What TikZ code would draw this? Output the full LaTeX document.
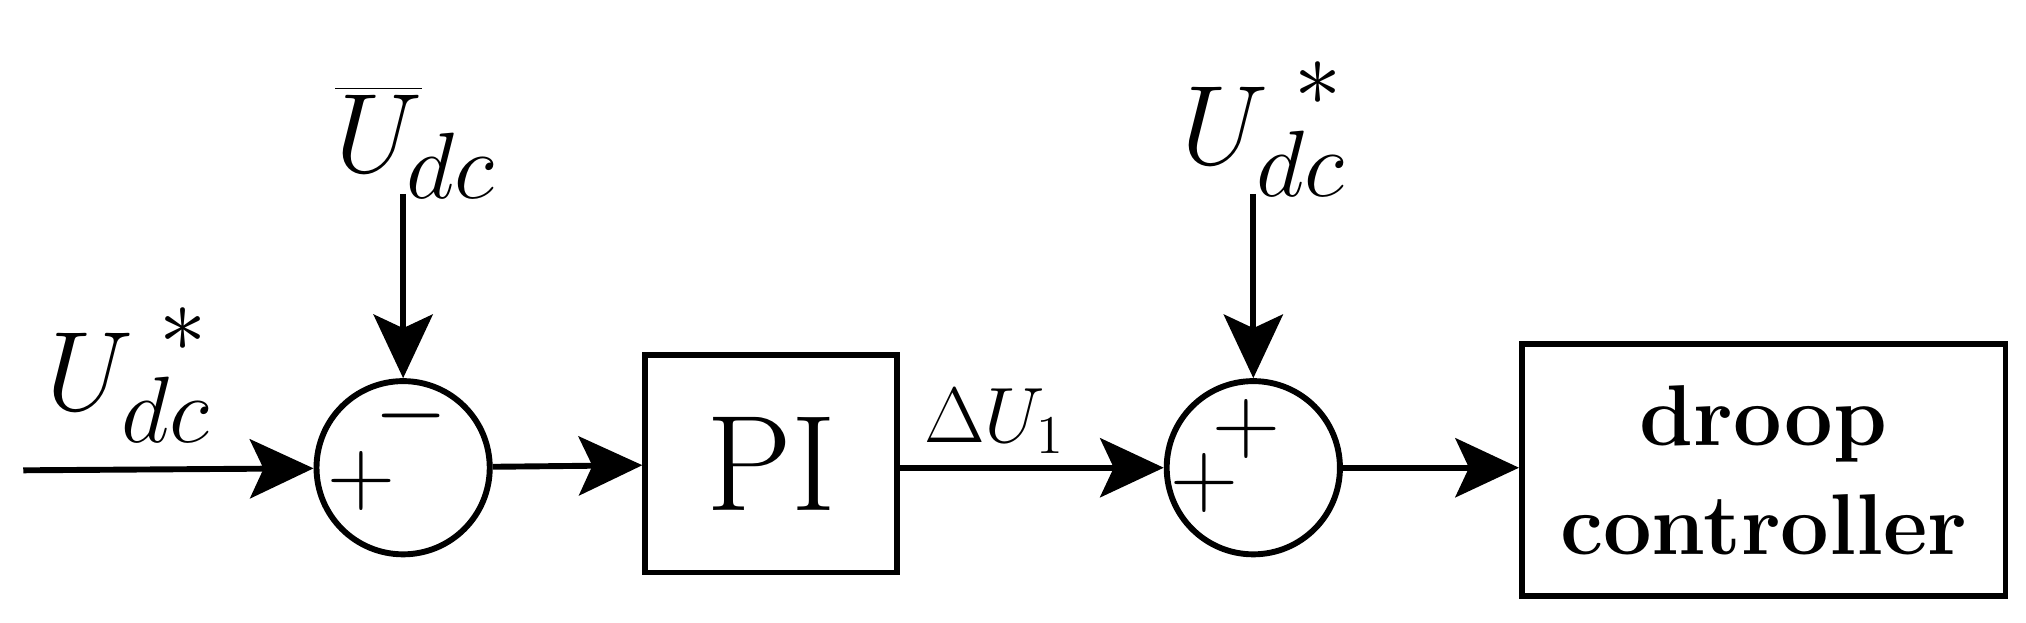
\documentclass[tikz,border=0pt]{standalone}
\usetikzlibrary{arrows.meta}
\begin{document}
\begin{tikzpicture}[x=0.01cm,y=-0.01cm,
  line width=1.3pt,
  arr/.style={-{Stealth[length=14pt,width=13pt,inset=3pt]}},
  sumc/.style={draw,circle,minimum size=1.34cm,inner sep=0pt},
  blk/.style={draw,rectangle,inner sep=0pt},
  lbl/.style={font=\fontsize{28}{30}\selectfont},
  sgn/.style={font=\fontsize{20}{22}\selectfont,inner sep=0pt}]
\useasboundingbox (0,0) rectangle (1568,482);
\node[sumc] (s1) at (312,362) {};
\node[sumc] (s2) at (970,362) {};
\node[blk,minimum width=1.95cm,minimum height=1.68cm,font=\fontsize{30}{32}\selectfont] (pi) at (597,359) {PI};
\node[blk,minimum width=3.74cm,minimum height=1.95cm,align=center,font=\bfseries\fontsize{19}{24}\selectfont] (dr) at (1365,364) {droop\\controller};
\coordinate (in) at (18,364);
\node[lbl] (l1) at (100,290) {$U_{dc}^{\raisebox{4pt}{$\scriptstyle\;*$}}$};
\node[lbl] (l2) at (322,110) {$\overline{U}_{\!dc}$};
\node[lbl] (l3) at (978,100) {$U_{dc}^{\raisebox{4pt}{$\scriptstyle\;*$}}$};
\node[font=\fontsize{17}{20}\selectfont] (du) at (770,326) {$\Delta U_1$};
\node[sgn] at (280,372) {$+$};
\node[sgn] at (318,322) {$-$};
\node[sgn] at (932,374) {$+$};
\node[sgn] at (965,332) {$+$};
\coordinate (t1) at (312,150);
\coordinate (t2) at (970,150);
\draw[arr] (in) -- (s1);
\draw[arr] (t1) -- (s1.north);
\draw[arr] (s1) -- (pi);
\draw[arr] (pi.east |- s2) -- (s2);
\draw[arr] (t2) -- (s2.north);
\draw[arr] (s2) -- (dr.west |- s2);
\end{tikzpicture}
\end{document}
